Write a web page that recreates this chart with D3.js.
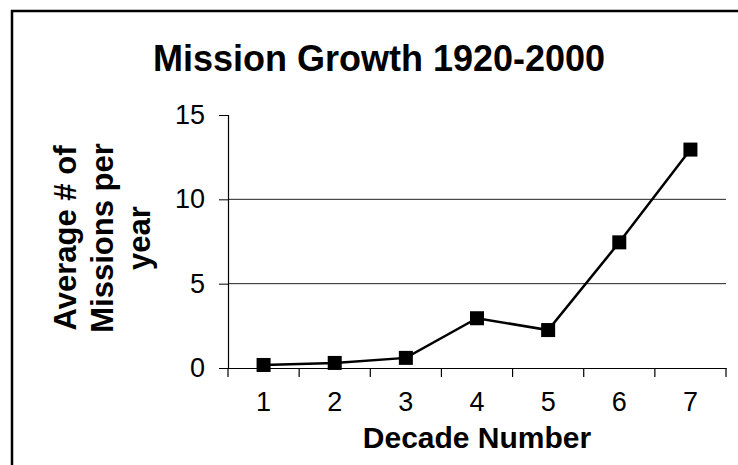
<!DOCTYPE html>
<html><head><meta charset="utf-8">
<script src="https://cdn.jsdelivr.net/npm/d3@7"></script>
<style>body{margin:0;background:#fff}svg{display:block}</style>
</head><body>
<svg id="c" width="738" height="465"></svg>
<script>
const categories = ["1","2","3","4","5","6","7"];
const values = [0.18, 0.3, 0.6, 2.95, 2.25, 7.45, 12.95];
const yTicks = [0, 5, 10, 15];
const titleText = "Mission Growth 1920-2000";
const xTitle = "Decade Number";
const yTitleLines = ["Average # of", "Missions per", "year"];

const svg = d3.select("#c");
const font = "'Liberation Sans', Arial, sans-serif";
const m = {left:228, right:726, top:115, bottom:368};

svg.append("rect").attr("x",12).attr("y",11).attr("width",760).attr("height",480)
  .attr("fill","none").attr("stroke","#000").attr("stroke-width",2.5);

const x = d3.scaleBand().domain(categories).range([m.left, m.right]).padding(0);
const y = d3.scaleLinear().domain([0, 15]).range([m.bottom, m.top]);

// gridlines
svg.append("g").selectAll("line").data(yTicks.filter(t => t > 0 && t < 15)).join("line")
  .attr("x1", m.left).attr("x2", m.right).attr("y1", d => y(d)).attr("y2", d => y(d))
  .attr("stroke", "#222").attr("stroke-width", 1);

// y axis
const yAxis = svg.append("g").attr("transform", `translate(${m.left},0)`)
  .call(d3.axisLeft(y).tickValues(yTicks).tickSize(9).tickPadding(14).tickFormat(d3.format("d")));
yAxis.select(".domain").attr("stroke","#000").attr("stroke-width",1.2);
yAxis.selectAll("line").attr("stroke","#000");
yAxis.selectAll("text").attr("font-family",font).attr("font-size",27).attr("fill","#000");

// x axis
const xAxis = svg.append("g").attr("transform", `translate(0,${m.bottom})`)
  .call(d3.axisBottom(x).tickSize(0).tickPadding(24));
xAxis.select(".domain").attr("stroke","#000").attr("stroke-width",1.2);
xAxis.selectAll("text").attr("font-family",font).attr("font-size",27).attr("fill","#000");
// category boundary ticks
const bounds = categories.map(c => x(c)).concat([x(categories[categories.length-1]) + x.bandwidth()]);
svg.append("g").selectAll("line").data(bounds).join("line")
  .attr("x1", d => d).attr("x2", d => d).attr("y1", m.bottom).attr("y2", m.bottom + 9)
  .attr("stroke","#000").attr("stroke-width",1.2);

// line
const line = d3.line().x((d,i) => x(categories[i]) + x.bandwidth()/2).y(d => y(d));
svg.append("path").datum(values).attr("d", line).attr("fill","none")
  .attr("stroke","#000").attr("stroke-width",2.5);
const ms = 14;
svg.append("g").selectAll("rect").data(values).join("rect")
  .attr("x", (d,i) => x(categories[i]) + x.bandwidth()/2 - ms/2)
  .attr("y", d => y(d) - ms/2).attr("width", ms).attr("height", ms).attr("fill","#000");

// title
svg.append("text").attr("x",379).attr("y",71).attr("text-anchor","middle")
  .attr("font-family",font).attr("font-weight","bold").attr("font-size",36).text(titleText);

// x title
svg.append("text").attr("x",(m.left+m.right)/2).attr("y",448).attr("text-anchor","middle")
  .attr("font-family",font).attr("font-weight","bold").attr("font-size",30).text(xTitle);

// y title
const yt = svg.append("text").attr("transform",`translate(0,238) rotate(-90)`)
  .attr("text-anchor","middle").attr("font-family",font).attr("font-weight","bold").attr("font-size",31);
const lineX = [76, 113, 150];
yTitleLines.forEach((t,i) => {
  yt.append("tspan").attr("x",0).attr("y",lineX[i]).text(t);
});
</script>
</body></html>
